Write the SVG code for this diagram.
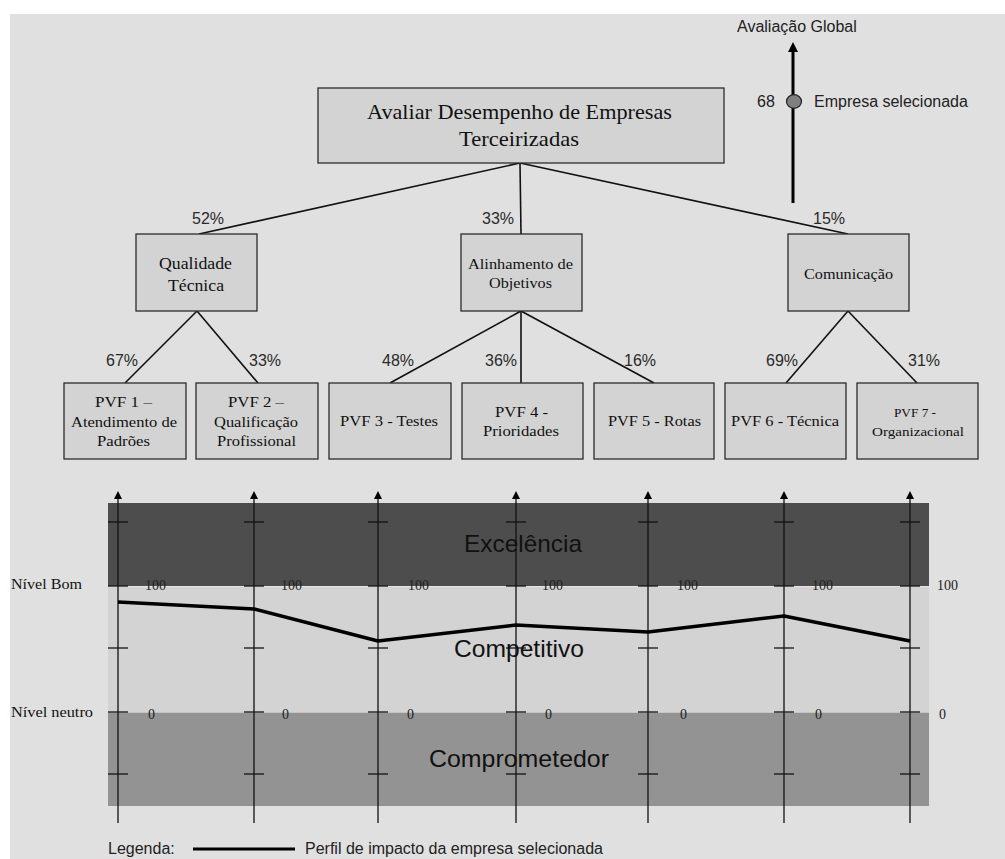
<svg xmlns="http://www.w3.org/2000/svg" xmlns:xlink="http://www.w3.org/1999/xlink" width="1005" height="859" viewBox="0 0 1005 859">
<style>
.bg{fill:#e0e0e0}
.box{fill:#d3d3d3;stroke:#2b2b2b;stroke-width:1.3}
.ser{font-family:"Liberation Serif","Times New Roman",serif;fill:#111;text-anchor:middle}
.sans{font-family:"Liberation Sans",Arial,sans-serif;fill:#222;font-size:16px}
.pct{font-family:"Liberation Sans",Arial,sans-serif;fill:#2a2a2a;font-size:16px}
.conn{stroke:#111;stroke-width:1.6;fill:none}
.ax{stroke:#111;stroke-width:1.3;fill:none}
.tick{stroke:#111;stroke-width:1.3}
.num{font-family:"Liberation Serif","Times New Roman",serif;fill:#222;font-size:14px}
.band{font-family:"Liberation Sans",Arial,sans-serif;fill:#111;font-size:24px;text-anchor:middle}
.lvl{font-family:"Liberation Serif","Times New Roman",serif;fill:#111;font-size:14px}
</style>
<defs>
<marker id="arrS" markerUnits="userSpaceOnUse" markerWidth="9" markerHeight="9" refX="0" refY="4" orient="auto" overflow="visible">
<path d="M0,0 L8,4 L0,8 z" fill="#000"/>
</marker>
<marker id="arrG" markerUnits="userSpaceOnUse" markerWidth="12" markerHeight="10" refX="0" refY="5" orient="auto" overflow="visible">
<path d="M0,0 L10,5 L0,10 z" fill="#000"/>
</marker>
<g id="axisTpl">
<line class="ax" x1="0" y1="823" x2="0" y2="499" marker-end="url(#arrS)"/>
<line class="tick" x1="-10" y1="522" x2="10" y2="522"/>
<line class="tick" x1="-10" y1="586" x2="10" y2="586"/>
<line class="tick" x1="-10" y1="648" x2="10" y2="648"/>
<line class="tick" x1="-10" y1="712" x2="10" y2="712"/>
<line class="tick" x1="-10" y1="774" x2="10" y2="774"/>
</g>
</defs>

<rect x="0" y="0" width="1005" height="859" fill="#ffffff"/>
<rect class="bg" x="10" y="14" width="995" height="845"/>

<g id="bands">
<rect x="108" y="503" width="821" height="83" fill="#4d4d4d"/>
<rect x="108" y="586" width="821" height="126" fill="#d3d3d3"/>
<rect x="108" y="712" width="821" height="94" fill="#939393"/>
<line x1="108" y1="586.5" x2="929" y2="586.5" stroke="#e6e6e6" stroke-width="1"/>
<line x1="108" y1="712.5" x2="929" y2="712.5" stroke="#c4c4c4" stroke-width="1"/>
<text class="band" x="523" y="552" textLength="118" lengthAdjust="spacingAndGlyphs">Excelência</text>
<text class="band" x="519" y="657" textLength="130" lengthAdjust="spacingAndGlyphs">Competitivo</text>
<text class="band" x="519" y="767" textLength="180" lengthAdjust="spacingAndGlyphs">Comprometedor</text>
</g>

<g id="levels">
<text class="lvl" x="11" y="589" textLength="71" lengthAdjust="spacingAndGlyphs">Nível Bom</text>
<text class="lvl" x="11" y="717" textLength="82" lengthAdjust="spacingAndGlyphs">Nível neutro</text>
</g>

<g id="axes">
<g id="axis-1"><use xlink:href="#axisTpl" x="118"/><text class="num" x="145" y="590">100</text><text class="num" x="148" y="719">0</text></g>
<g id="axis-2"><use xlink:href="#axisTpl" x="254"/><text class="num" x="281" y="590">100</text><text class="num" x="282" y="719">0</text></g>
<g id="axis-3"><use xlink:href="#axisTpl" x="378"/><text class="num" x="408" y="590">100</text><text class="num" x="407" y="719">0</text></g>
<g id="axis-4"><use xlink:href="#axisTpl" x="516"/><text class="num" x="542" y="590">100</text><text class="num" x="545" y="719">0</text></g>
<g id="axis-5"><use xlink:href="#axisTpl" x="648"/><text class="num" x="677" y="590">100</text><text class="num" x="680" y="719">0</text></g>
<g id="axis-6"><use xlink:href="#axisTpl" x="784"/><text class="num" x="812" y="590">100</text><text class="num" x="815" y="719">0</text></g>
<g id="axis-7"><use xlink:href="#axisTpl" x="910"/><text class="num" x="937" y="590">100</text><text class="num" x="939" y="719">0</text></g>
</g>

<g id="profile">
<polyline points="118,602 254,609 378,641 516,625 648,632 784,616 910,641" fill="none" stroke="#000" stroke-width="3.5" stroke-linejoin="round"/>
</g>

<g id="connectors">
<line class="conn" x1="520" y1="163" x2="199" y2="234"/>
<line class="conn" x1="520" y1="163" x2="521" y2="234"/>
<line class="conn" x1="520" y1="163" x2="848" y2="234"/>
<line class="conn" x1="197" y1="311" x2="125" y2="383"/>
<line class="conn" x1="197" y1="311" x2="258" y2="383"/>
<line class="conn" x1="521" y1="311" x2="390" y2="383"/>
<line class="conn" x1="521" y1="311" x2="521" y2="383"/>
<line class="conn" x1="521" y1="311" x2="654" y2="383"/>
<line class="conn" x1="848" y1="311" x2="786" y2="383"/>
<line class="conn" x1="848" y1="311" x2="917" y2="383"/>
<text class="pct" x="192" y="224">52%</text>
<text class="pct" x="482" y="224">33%</text>
<text class="pct" x="813" y="224">15%</text>
<text class="pct" x="106" y="366">67%</text>
<text class="pct" x="249" y="366">33%</text>
<text class="pct" x="382" y="366">48%</text>
<text class="pct" x="485" y="366">36%</text>
<text class="pct" x="624" y="366">16%</text>
<text class="pct" x="766" y="366">69%</text>
<text class="pct" x="908" y="366">31%</text>
</g>

<g id="node-root">
<rect class="box" x="318" y="88" width="406" height="75"/>
<text class="ser" x="519.5" y="119" font-size="21" textLength="305" lengthAdjust="spacingAndGlyphs">Avaliar Desempenho de Empresas</text>
<text class="ser" x="519" y="146" font-size="21" textLength="120" lengthAdjust="spacingAndGlyphs">Terceirizadas</text>
</g>

<g id="node-qualidade">
<rect class="box" x="136" y="234" width="121" height="77"/>
<text class="ser" x="195.5" y="269" font-size="16" textLength="73" lengthAdjust="spacingAndGlyphs">Qualidade</text>
<text class="ser" x="196" y="291" font-size="16" textLength="56" lengthAdjust="spacingAndGlyphs">Técnica</text>
</g>
<g id="node-alinhamento">
<rect class="box" x="461" y="234" width="121" height="77"/>
<text class="ser" x="520.5" y="269" font-size="14" textLength="105" lengthAdjust="spacingAndGlyphs">Alinhamento de</text>
<text class="ser" x="520.5" y="288" font-size="14" textLength="63" lengthAdjust="spacingAndGlyphs">Objetivos</text>
</g>
<g id="node-comunicacao">
<rect class="box" x="788" y="234" width="121" height="77"/>
<text class="ser" x="848.5" y="279" font-size="14" textLength="89" lengthAdjust="spacingAndGlyphs">Comunicação</text>
</g>

<g id="node-pvf1">
<rect class="box" x="64" y="383" width="122" height="76"/>
<text class="ser" x="123.5" y="407" font-size="15" textLength="57" lengthAdjust="spacingAndGlyphs">PVF 1 –</text>
<text class="ser" x="124" y="427" font-size="15" textLength="106" lengthAdjust="spacingAndGlyphs">Atendimento de</text>
<text class="ser" x="123.5" y="446" font-size="15" textLength="53" lengthAdjust="spacingAndGlyphs">Padrões</text>
</g>
<g id="node-pvf2">
<rect class="box" x="196" y="383" width="122" height="76"/>
<text class="ser" x="256" y="407" font-size="15" textLength="56" lengthAdjust="spacingAndGlyphs">PVF 2 –</text>
<text class="ser" x="256" y="427" font-size="15" textLength="84" lengthAdjust="spacingAndGlyphs">Qualificação</text>
<text class="ser" x="256.5" y="446" font-size="15" textLength="79" lengthAdjust="spacingAndGlyphs">Profissional</text>
</g>
<g id="node-pvf3">
<rect class="box" x="329" y="383" width="122" height="76"/>
<text class="ser" x="389" y="426" font-size="15" textLength="98" lengthAdjust="spacingAndGlyphs">PVF 3 - Testes</text>
</g>
<g id="node-pvf4">
<rect class="box" x="462" y="383" width="121" height="76"/>
<text class="ser" x="521.5" y="417" font-size="15" textLength="53" lengthAdjust="spacingAndGlyphs">PVF 4 -</text>
<text class="ser" x="521" y="436" font-size="15" textLength="76" lengthAdjust="spacingAndGlyphs">Prioridades</text>
</g>
<g id="node-pvf5">
<rect class="box" x="594" y="383" width="120" height="76"/>
<text class="ser" x="654.5" y="426" font-size="15" textLength="93" lengthAdjust="spacingAndGlyphs">PVF 5 - Rotas</text>
</g>
<g id="node-pvf6">
<rect class="box" x="725" y="383" width="121" height="76"/>
<text class="ser" x="785" y="426" font-size="15" textLength="108" lengthAdjust="spacingAndGlyphs">PVF 6 - Técnica</text>
</g>
<g id="node-pvf7">
<rect class="box" x="857" y="383" width="121" height="76"/>
<text class="ser" x="915" y="417" font-size="13.5" textLength="42" lengthAdjust="spacingAndGlyphs">PVF 7 -</text>
<text class="ser" x="918" y="436" font-size="13.5" textLength="92" lengthAdjust="spacingAndGlyphs">Organizacional</text>
</g>

<g id="global-axis">
<line x1="793" y1="203" x2="793" y2="52" stroke="#000" stroke-width="3" marker-end="url(#arrG)"/>
<ellipse cx="794" cy="101.5" rx="7.5" ry="6.8" fill="#7f7f7f" stroke="#222" stroke-width="1.2"/>
<text class="sans" x="737" y="32">Avaliação Global</text>
<text class="sans" x="757" y="107">68</text>
<text class="sans" x="814" y="107">Empresa selecionada</text>
</g>

<g id="legend">
<text class="sans" x="108" y="854">Legenda:</text>
<line x1="193" y1="849" x2="295" y2="849" stroke="#000" stroke-width="3"/>
<text class="sans" x="305" y="854">Perfil de impacto da empresa selecionada</text>
</g>
</svg>
